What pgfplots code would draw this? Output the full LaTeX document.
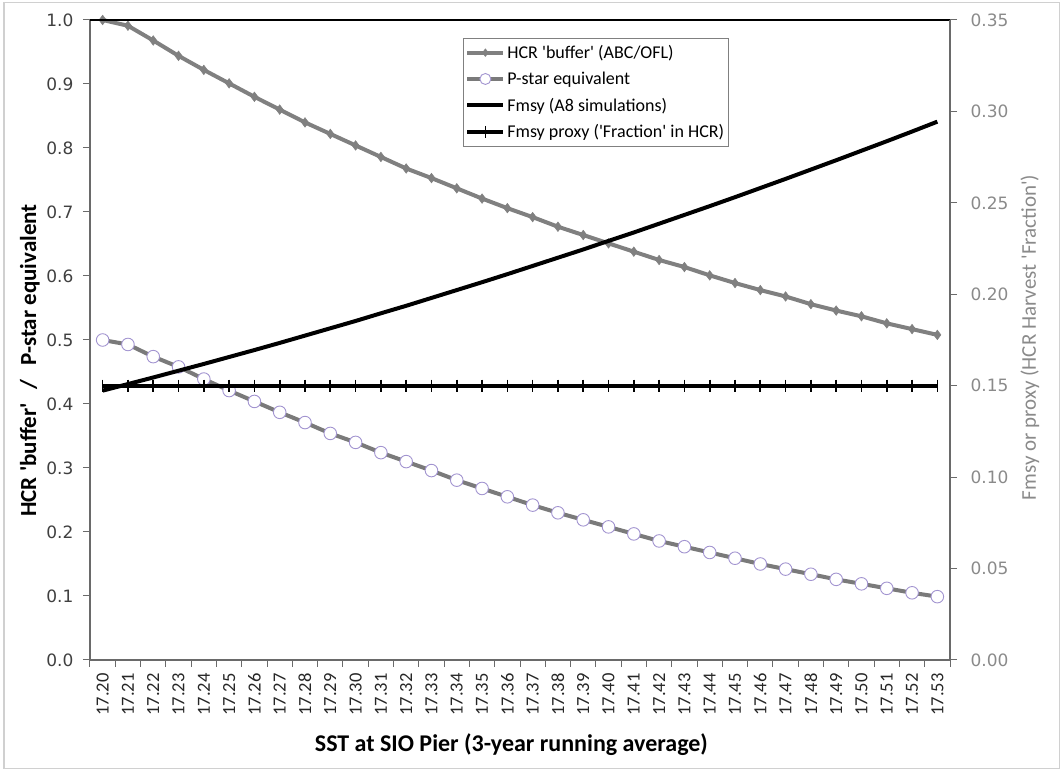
\documentclass[border=0pt]{standalone}
\usepackage{fontspec}
\setmainfont{Carlito}
\newfontfamily\dejavu{DejaVu Sans}
\usepackage{pgfplots}
\usepackage{pgfplotstable}
\pgfplotsset{compat=1.18}
\definecolor{hcrgray}{HTML}{808080}
\definecolor{pgray}{HTML}{7A7A7A}
\definecolor{lilac}{HTML}{A294D0}
\definecolor{axgray}{HTML}{6A6A6A}
\definecolor{ticklab}{HTML}{404040}
\definecolor{rightlab}{HTML}{8A8A8A}
\definecolor{framegray}{HTML}{D0D0D0}
\newcommand\q{\textquotesingle}

\pgfplotstableread{
i hcr pstar
0 1.000 0.500
1 0.991 0.493
2 0.968 0.474
3 0.944 0.458
4 0.922 0.439
5 0.901 0.421
6 0.880 0.404
7 0.860 0.387
8 0.840 0.371
9 0.822 0.354
10 0.804 0.340
11 0.786 0.324
12 0.768 0.310
13 0.753 0.296
14 0.737 0.281
15 0.721 0.268
16 0.706 0.255
17 0.692 0.242
18 0.677 0.230
19 0.664 0.219
20 0.651 0.208
21 0.638 0.197
22 0.625 0.186
23 0.614 0.177
24 0.601 0.168
25 0.589 0.159
26 0.578 0.150
27 0.568 0.142
28 0.556 0.134
29 0.546 0.126
30 0.537 0.119
31 0.526 0.112
32 0.517 0.105
33 0.508 0.099
}\leftdata

\pgfplotstableread{
i fmsy proxy
0 0.1473 0.15
1 0.1509 0.15
2 0.1545 0.15
3 0.1582 0.15
4 0.1619 0.15
5 0.1657 0.15
6 0.1695 0.15
7 0.1734 0.15
8 0.1774 0.15
9 0.1814 0.15
10 0.1854 0.15
11 0.1896 0.15
12 0.1937 0.15
13 0.1980 0.15
14 0.2023 0.15
15 0.2066 0.15
16 0.2110 0.15
17 0.2155 0.15
18 0.2200 0.15
19 0.2245 0.15
20 0.2292 0.15
21 0.2338 0.15
22 0.2386 0.15
23 0.2434 0.15
24 0.2482 0.15
25 0.2531 0.15
26 0.2581 0.15
27 0.2631 0.15
28 0.2682 0.15
29 0.2733 0.15
30 0.2785 0.15
31 0.2837 0.15
32 0.2890 0.15
33 0.2944 0.15
}\rightdata

\begin{document}
\begin{tikzpicture}[x=1pt,y=1pt]
\path[use as bounding box] (0,0) rectangle (1061,771);
\draw[framegray,line width=1.2pt] (4,2.5) rectangle (1059.5,768.5);

\begin{axis}[
  at={(90pt,111pt)}, anchor=south west,
  scale only axis, width=860pt, height=640pt,
  xmin=-0.5, xmax=33.5, ymin=0, ymax=1,
  axis x line*=bottom, axis y line*=left,
  x axis line style={draw=axgray, line width=2.5pt},
  y axis line style={draw=axgray, line width=2pt},
  tick align=outside,
  major tick length=0pt,
  minor tick length=7pt,
  minor tick style={draw=axgray, line width=1pt},
  xtick={0,...,33},
  xticklabels={17.20,17.21,17.22,17.23,17.24,17.25,17.26,17.27,17.28,17.29,17.30,17.31,17.32,17.33,17.34,17.35,17.36,17.37,17.38,17.39,17.40,17.41,17.42,17.43,17.44,17.45,17.46,17.47,17.48,17.49,17.50,17.51,17.52,17.53},
  minor xtick={-0.5,0.5,1.5,2.5,3.5,4.5,5.5,6.5,7.5,8.5,9.5,10.5,11.5,12.5,13.5,14.5,15.5,16.5,17.5,18.5,19.5,20.5,21.5,22.5,23.5,24.5,25.5,26.5,27.5,28.5,29.5,30.5,31.5,32.5,33.5},
  ytick={0,0.1,0.2,0.3,0.4,0.5,0.6,0.7,0.8,0.9,1.0},
  minor ytick={0,0.1,0.2,0.3,0.4,0.5,0.6,0.7,0.8,0.9,1.0},
  yticklabel style={/pgf/number format/.cd, fixed, fixed zerofill, precision=1, assume math mode=true, /tikz/.cd, font=\dejavu\fontsize{17}{19}\selectfont, text=ticklab, xshift=-13pt},
  xticklabel style={rotate=90, anchor=east, font=\fontsize{18.5}{20}\selectfont, text=black!85, xshift=-10pt},
  xlabel={\bfseries SST at SIO Pier (3-year running average)},
  xlabel style={at={(axis description cs:0.49,-0.1328)}, anchor=center, font=\fontsize{24}{26}\selectfont},
  ylabel={\bfseries HCR \q buffer\q\hspace{14pt}/\hspace{14pt}P-star equivalent},
  ylabel style={at={(axis description cs:-0.0698,0.468)}, anchor=center, rotate=0, font=\fontsize{23}{26}\selectfont},
  clip=false,
]
\addplot[hcrgray, line width=4pt, mark=diamond*, mark size=4.8pt, mark options={fill=hcrgray, draw=hcrgray, line width=0.5pt}] table[x=i, y=hcr] {\leftdata};
\addplot[pgray, line width=4pt, mark=*, mark size=6.3pt, mark options={fill=white, draw=lilac, line width=0.9pt}] table[x=i, y=pstar] {\leftdata};
\end{axis}

\begin{axis}[
  at={(90pt,111pt)}, anchor=south west,
  scale only axis, width=860pt, height=640pt,
  xmin=-0.5, xmax=33.5, ymin=0, ymax=0.35,
  axis x line*=top, axis y line*=right,
  x axis line style={draw=black, line width=1.3pt},
  y axis line style={draw=axgray, line width=2pt},
  xtick=\empty,
  tick align=outside,
  major tick length=7pt,
  major tick style={draw=axgray, line width=1pt},
  ytick={0,0.05,0.10,0.15,0.20,0.25,0.30,0.35},
  yticklabel style={/pgf/number format/.cd, fixed, fixed zerofill, precision=2, assume math mode=true, /tikz/.cd, font=\dejavu\fontsize{17}{19}\selectfont, text=rightlab, xshift=10pt},
  ylabel={Fmsy or proxy (HCR Harvest \q Fraction\q)},
  ylabel style={at={(axis description cs:1.093,0.504)}, anchor=center, rotate=0, text=rightlab, font=\fontsize{21}{24}\selectfont},
  legend cell align=left,
  legend style={at={(axis description cs:0.4337,0.972)}, anchor=north west, draw=gray, line width=0.8pt, font=\fontsize{18}{20}\selectfont, inner xsep=2pt, inner ysep=5pt, row sep=8pt},
  legend image code/.code={\draw[mark repeat=2, mark phase=2, #1] plot coordinates {(0pt,0pt) (18pt,0pt) (36pt,0pt)};},
  clip=false,
]
\addlegendimage{hcrgray, line width=4pt, mark=diamond*, mark size=3.8pt, mark options={fill=hcrgray, draw=hcrgray, line width=0.5pt}}
\addlegendentry{HCR \q buffer\q\ (ABC/OFL)}
\addlegendimage{pgray, line width=4pt, mark=*, mark size=5.5pt, mark options={fill=white, draw=lilac, line width=0.9pt}}
\addlegendentry{P-star equivalent}
\addplot[black, line width=4pt, no markers] table[x=i, y=fmsy] {\rightdata};
\addlegendentry{Fmsy (A8 simulations)}
\addplot[black, line width=4pt, mark=|, mark size=6pt, mark options={line width=1.6pt}] table[x=i, y=proxy] {\rightdata};
\addlegendentry{Fmsy proxy (\q Fraction\q\ in HCR)}
\end{axis}
\end{tikzpicture}
\end{document}
